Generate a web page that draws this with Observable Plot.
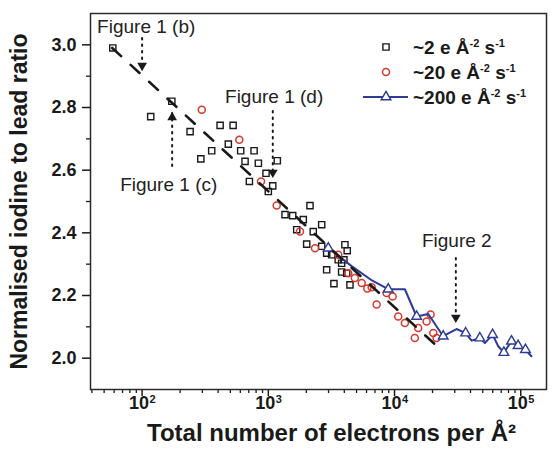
<!DOCTYPE html>
<html>
<head>
<meta charset="utf-8">
<script src="https://cdn.jsdelivr.net/npm/d3@7"></script>
<script src="https://cdn.jsdelivr.net/npm/@observablehq/plot@0.6"></script>
<style>
  body { margin: 0; background: #fff; }
  #chart svg { display: block; }
</style>
</head>
<body>
<div id="chart"></div>
<script>
// ~2 e Å-2 s-1 (black open squares)
const rate2X = [58.6, 117, 172, 240, 292, 356, 415, 482, 526, 604, 654, 771, 834, 959, 708, 1178, 1084, 1000,
  2138, 1356, 1560, 1892, 2648, 1679, 2270, 2014, 2648, 2899, 3176, 4046, 4219, 3581, 3810, 2899, 3810, 3311, 4434, 3972, 4178];
const rate2Y = [2.99, 2.771, 2.82, 2.723, 2.636, 2.662, 2.743, 2.683, 2.743, 2.662, 2.628, 2.662, 2.622, 2.590, 2.564, 2.630, 2.550, 2.532,
  2.487, 2.458, 2.455, 2.442, 2.426, 2.410, 2.404, 2.364, 2.357, 2.335, 2.330, 2.362, 2.343, 2.314, 2.303, 2.282, 2.275, 2.238, 2.234, 2.314, 2.271];

// ~20 e Å-2 s-1 (red open circles)
const rate20X = [297, 589, 875, 1165, 1782, 2344, 3581, 4296, 4853, 5492, 6086, 6590, 7218, 8654, 9660, 10700, 12080, 14480, 15400, 17950, 19320, 20280, 21540];
const rate20Y = [2.793, 2.697, 2.564, 2.487, 2.404, 2.351, 2.330, 2.271, 2.256, 2.240, 2.222, 2.226, 2.171, 2.208, 2.197, 2.133, 2.112, 2.064, 2.096, 2.117, 2.139, 2.080, 2.064];

// ~200 e Å-2 s-1 (blue line, triangles on flagged points)
const rate200X = [2985, 4600, 6625, 8913, 12080, 14960, 18500, 24300, 31000, 36600, 40800, 47400, 52000, 59800, 66300, 73500, 84500, 95300, 109000, 121600];
const rate200Y = [2.351, 2.293, 2.248, 2.220, 2.220, 2.133, 2.141, 2.070, 2.093, 2.080, 2.056, 2.064, 2.048, 2.075, 2.038, 2.018, 2.054, 2.040, 2.027, 2.006];
const rate200Marker = [1, 0, 0, 1, 0, 1, 0, 1, 0, 1, 0, 1, 0, 1, 0, 1, 1, 1, 1, 0];

// dashed guide line
const guideX = [58, 24300];
const guideY = [2.99, 2.02];

// annotations
const annText = ["Figure 1 (b)", "Figure 1 (c)", "Figure 1 (d)", "Figure 2"];
const annX = [44, 67, 454, 16500];
const annY = [3.058, 2.554, 2.835, 2.373];
const arrowX = [100, 173, 1085, 30600];
const arrowFrom = [3.02, 2.612, 2.787, 2.318];
const arrowTo = [2.921, 2.781, 2.58, 2.117];
const arrowDir = ["down", "up", "down", "down"];

// axes
const yMajor = [2.0, 2.2, 2.4, 2.6, 2.8, 3.0];
const yMinor = [2.1, 2.3, 2.5, 2.7, 2.9];
const xMajor = [1e2, 1e3, 1e4, 1e5];
const xMinor = [40, 50, 60, 70, 80, 90, 200, 300, 400, 500, 600, 700, 800, 900,
  2000, 3000, 4000, 5000, 6000, 7000, 8000, 9000, 20000, 30000, 40000, 50000, 60000, 70000, 80000, 90000];
const xTickBase = ["10", "10", "10", "10"];
const xTickExp = ["2", "3", "4", "5"];

const legendRates = ["~2", "~20", "~200"];
const yTitle = "Normalised iodine to lead ratio";
const xTitle = "Total number of electrons per Å²";

const FONT = "'Liberation Sans', Arial, Helvetica, sans-serif";
const INK = "#1a1a1a";
const RED = "#d63a2e";
const BLUE = "#2d3a96";

const s2 = rate2X.map((x, i) => ({x, y: rate2Y[i]}));
const s20 = rate20X.map((x, i) => ({x, y: rate20Y[i]}));
const s200 = rate200X.map((x, i) => ({x, y: rate200Y[i], m: rate200Marker[i]}));
const guide = guideX.map((x, i) => ({x, y: guideY[i]}));
const ann = annText.map((t, i) => ({t, x: annX[i], y: annY[i]}));
const arrows = arrowX.map((x, i) => ({x, from: arrowFrom[i], to: arrowTo[i], dir: arrowDir[i]}));
const xLabels = xMajor.map((v, i) => ({v, base: xTickBase[i], exp: xTickExp[i]}));

const plot = Plot.plot({
  width: 556,
  height: 457,
  marginLeft: 90,
  marginRight: 10,
  marginTop: 13,
  marginBottom: 68,
  x: {type: "log", domain: [39, 160000]},
  y: {domain: [1.9, 3.1]},
  style: {fontFamily: FONT, background: "#fff", color: INK},
  marks: [
    Plot.axisY({ticks: yMajor, tickSize: 8, tickPadding: 6, tickFormat: d3.format(".1f"), fontSize: 18, fontWeight: "bold", strokeWidth: 1.5, label: null}),
    Plot.axisY({ticks: yMinor, tickSize: 4, fill: "none", strokeWidth: 1.3, label: null}),
    Plot.axisX({ticks: xMajor, tickSize: 7, fill: "none", strokeWidth: 1.5, label: null}),
    Plot.axisX({ticks: xMinor, tickSize: 4, fill: "none", strokeWidth: 1.3, label: null}),
    Plot.text(xLabels, {x: "v", text: "base", frameAnchor: "bottom", dy: 19, dx: -3, fontSize: 18, fontWeight: "bold", fill: INK}),
    Plot.text(xLabels, {x: "v", text: "exp", frameAnchor: "bottom", dy: 13, dx: 7.5, textAnchor: "start", fontSize: 11, fontWeight: "bold", fill: INK}),
    Plot.text([yTitle], {text: d => d, frameAnchor: "left", textAnchor: "middle", dx: -71, rotate: -90, fontSize: 23, fontWeight: "bold", fill: INK}),
    Plot.text([xTitle], {text: d => d, frameAnchor: "bottom", textAnchor: "middle", dx: 13, dy: 51, fontSize: 24, fontWeight: "bold", fill: INK}),

    // data
    Plot.dot(s2, {x: "x", y: "y", symbol: "square", r: 3.5, stroke: INK, strokeWidth: 1.4, fill: "none"}),
    Plot.dot(s20, {x: "x", y: "y", symbol: "circle", r: 3.5, stroke: RED, strokeWidth: 1.5, fill: "none"}),
    Plot.line(s200, {x: "x", y: "y", stroke: BLUE, strokeWidth: 2}),
    Plot.dot(s200.filter(d => d.m), {x: "x", y: "y", symbol: "triangle", r: 3.6, stroke: BLUE, strokeWidth: 1.4, fill: "#fff"}),
    Plot.line(guide, {x: "x", y: "y", stroke: INK, strokeWidth: 2.6, strokeDasharray: "12,13"}),

    // annotation arrows
    Plot.ruleX(arrows, {x: "x", y1: "from", y2: "to", stroke: INK, strokeWidth: 2, strokeDasharray: "1.5,5", strokeLinecap: "round"}),
    Plot.dot(arrows.filter(d => d.dir === "down"), {x: "x", y: "to", symbol: "triangle", rotate: 180, r: 3.6, fill: INK, dy: -4}),
    Plot.dot(arrows.filter(d => d.dir === "up"), {x: "x", y: "to", symbol: "triangle", r: 3.6, fill: INK, dy: 4}),
    Plot.text(ann, {x: "x", y: "y", text: "t", textAnchor: "start", fontSize: 19, fill: "#222"}),

    Plot.frame({stroke: "#2a2a2a", strokeWidth: 1.5})
  ]
});

// legend
const svg = d3.select(plot);
const lg = svg.append("g").attr("font-family", FONT).attr("font-weight", "bold").attr("fill", INK).attr("text-anchor", "start");
const rowY = [47, 72, 97];
const symX = 386;
lg.append("path").attr("d", d3.symbol(d3.symbolSquare, Math.PI * 3.5 * 3.5)())
  .attr("transform", `translate(${symX},${rowY[0]})`)
  .attr("fill", "none").attr("stroke", INK).attr("stroke-width", 1.4);
lg.append("circle").attr("cx", symX).attr("cy", rowY[1]).attr("r", 3.5)
  .attr("fill", "none").attr("stroke", RED).attr("stroke-width", 1.5);
lg.append("line").attr("x1", 363).attr("x2", 408).attr("y1", rowY[2]).attr("y2", rowY[2])
  .attr("stroke", BLUE).attr("stroke-width", 2);
lg.append("path").attr("d", d3.symbol(d3.symbolTriangle, Math.PI * 3.6 * 3.6)())
  .attr("transform", `translate(${symX},${rowY[2]})`)
  .attr("fill", "#fff").attr("stroke", BLUE).attr("stroke-width", 1.4);
legendRates.forEach((r, i) => {
  const t = lg.append("text").attr("x", 413).attr("y", rowY[i]).attr("dy", "0.36em").attr("font-size", 19).attr("text-anchor", "start");
  t.append("tspan").text(r + " e Å");
  t.append("tspan").attr("font-size", 11).attr("dy", -7).text("-2");
  t.append("tspan").attr("dy", 7).text(" s");
  t.append("tspan").attr("font-size", 11).attr("dy", -7).text("-1");
});

document.getElementById("chart").appendChild(plot);
</script>
</body>
</html>
